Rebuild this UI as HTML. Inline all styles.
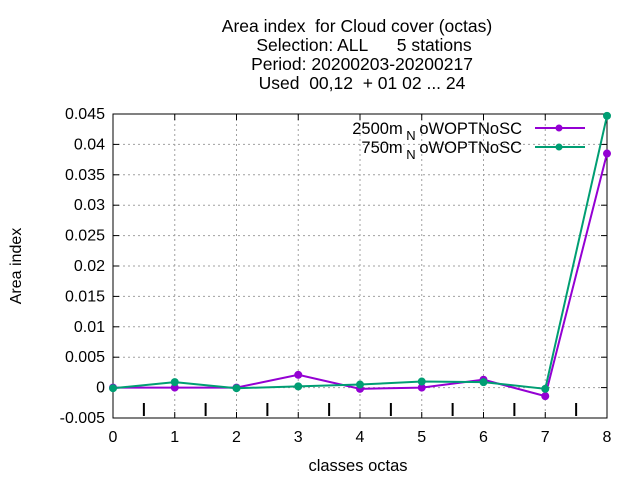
<!DOCTYPE html>
<html><head><meta charset="utf-8"><style>
body{margin:0;background:#fff}
svg text{font-family:"Liberation Sans",sans-serif;fill:#000;white-space:pre}
</style></head><body>
<svg width="640" height="480">
<g id="title" font-size="17.5" text-anchor="middle">
<text x="357" y="32" xml:space="preserve">Area index  for Cloud cover (octas)</text>
<text x="364" y="51" xml:space="preserve">Selection: ALL      5 stations</text>
<text x="362" y="70" xml:space="preserve">Period: 20200203-20200217</text>
<text x="362" y="89" xml:space="preserve">Used  00,12  + 01 02 ... 24</text>
</g>
<g id="grid"></g>
<g id="axes"></g>
<g id="series"></g>
<text x="21" y="266" font-size="16" text-anchor="middle" transform="rotate(-90 21 266)">Area index</text>
<text x="358" y="471" font-size="16.5" text-anchor="middle">classes octas</text>
<g font-size="16.5" text-anchor="end">
<g>
<text x="522" y="134" xml:space="preserve">2500m<tspan font-size="13" dy="6"> N </tspan><tspan dy="-6">oWOPTNoSC</tspan></text>
<line x1="535" y1="128" x2="585" y2="128" stroke="#9400d3" stroke-width="2"/>
<circle cx="559" cy="128" r="3.5" fill="#9400d3"/></g>
<g>
<text x="522" y="153" xml:space="preserve">750m<tspan font-size="13" dy="6"> N </tspan><tspan dy="-6">oWOPTNoSC</tspan></text>
<line x1="535" y1="147" x2="585" y2="147" stroke="#009e73" stroke-width="2"/>
<circle cx="559" cy="147" r="3.5" fill="#009e73"/></g>
</g>
</svg>
<script>
const categories=[0,1,2,3,4,5,6,7,8];
const s2500=[0,0,0,0.0021,-0.0002,0,0.0013,-0.0014,0.0385];
const s750=[-0.0001,0.0009,-0.0001,0.0002,0.0005,0.001,0.0009,-0.0002,0.0447];
const yTicks=[-0.005,0,0.005,0.01,0.015,0.02,0.025,0.03,0.035,0.04,0.045];
const yLabels=["-0.005","0","0.005","0.01","0.015","0.02","0.025","0.03","0.035","0.04","0.045"];
const X0=113,X1=607,Y0=418,Y1=114;
const xs=v=>X0+(v-0)/(8-0)*(X1-X0);
const ys=v=>Y0-(v+0.005)/0.05*(Y0-Y1);
const NS="http://www.w3.org/2000/svg";
function mk(t,a,p){const e=document.createElementNS(NS,t);for(const k in a)e.setAttribute(k,a[k]);p.appendChild(e);return e;}
const grid=document.getElementById('grid'),axes=document.getElementById('axes'),ser=document.getElementById('series');
yTicks.forEach((v,i)=>{const y=ys(v);
 if(i>0&&i<yTicks.length-1){const g=mk('line',{x1:X0,x2:X1,y1:y,y2:y,stroke:'#a0a0a0','stroke-dasharray':'2,3'},grid);
 
 }
 mk('line',{x1:X0,x2:X0+6,y1:y,y2:y,stroke:'#000'},axes);
 mk('line',{x1:X1,x2:X1-6,y1:y,y2:y,stroke:'#000'},axes);
 const t=mk('text',{x:X0-8,y:y+5,'font-size':16,'text-anchor':'end'},axes);t.textContent=yLabels[i];
 
 
});
categories.forEach(c=>{const x=xs(c);
 if(c>0&&c<8){const g=mk('line',{x1:x,x2:x,y1:Y1,y2:Y0,stroke:'#a0a0a0','stroke-dasharray':'2,3'},grid);
 
 }
 mk('line',{x1:x,x2:x,y1:Y0,y2:Y0-6,stroke:'#000'},axes);
 mk('line',{x1:x,x2:x,y1:Y1,y2:Y1+6,stroke:'#000'},axes);
 const t=mk('text',{x:x,y:Y0+24,'font-size':16,'text-anchor':'middle'},axes);t.textContent=c;
 
 
 if(c<8){const m=mk('line',{x1:xs(c+0.5),x2:xs(c+0.5),y1:Y0-15,y2:Y0-2,stroke:'#000','stroke-width':2},axes);
 
 }
});
const fr=mk('rect',{x:X0,y:Y1,width:X1-X0,height:Y0-Y1,fill:'none',stroke:'#000'},axes);


[[s2500,'#9400d3','line-2500m'],[s750,'#009e73','line-750m']].forEach(([d,col,nm])=>{
 const p=mk('polyline',{points:d.map((v,i)=>xs(categories[i])+','+ys(v)).join(' '),fill:'none',stroke:col,'stroke-width':2},ser);
 
 
 d.forEach((v,i)=>{const c=mk('circle',{cx:xs(categories[i]),cy:ys(v),r:4,fill:col},ser);
 
 });
});
</script>
</body></html>
